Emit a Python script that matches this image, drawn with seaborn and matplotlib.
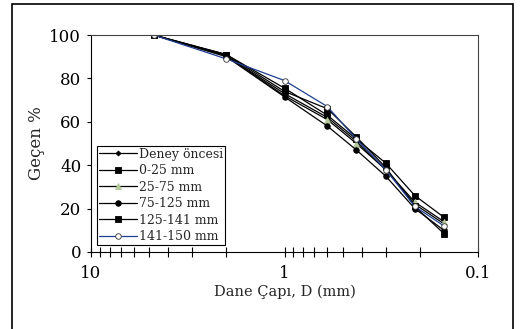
import matplotlib
matplotlib.use("Agg")
import matplotlib.pyplot as plt
import seaborn as sns
import pandas as pd
from matplotlib.patches import Rectangle
from matplotlib.ticker import FixedLocator, NullFormatter

# ---- data ----
sizes_mm = [4.75, 2.0, 1.0, 0.6, 0.425, 0.3, 0.212, 0.15]
deney_oncesi = [100, 90.5, 73.0, 62.0, 51.0, 38.0, 22.0, 13.0]
s_0_25 = [100, 91.0, 75.5, 63.0, 52.0, 41.0, 26.0, 16.0]
s_25_75 = [100, 90.5, 72.0, 61.0, 50.0, 38.0, 23.0, 14.0]
s_75_125 = [100, 90.0, 71.5, 58.0, 47.0, 35.0, 20.0, 10.0]
s_125_141 = [100, 91.0, 74.0, 66.0, 53.0, 39.0, 21.0, 8.5]
s_141_150 = [100, 89.0, 79.0, 67.0, 52.0, 38.0, 21.0, 12.0]
series_names = ["Deney öncesi", "0-25 mm", "25-75 mm", "75-125 mm", "125-141 mm", "141-150 mm"]
series_vals = [deney_oncesi, s_0_25, s_25_75, s_75_125, s_125_141, s_141_150]

styles = {
    "Deney öncesi": dict(color="black", marker="D", ms=2.5, mfc="black", mec="black"),
    "0-25 mm": dict(color="black", marker="s", ms=5, mfc="black", mec="black"),
    "25-75 mm": dict(color="black", marker="^", ms=4, mfc="#b5c99a", mec="#b5c99a"),
    "75-125 mm": dict(color="black", marker="o", ms=4, mfc="black", mec="black"),
    "125-141 mm": dict(color="black", marker="s", ms=4.5, mfc="black", mec="black"),
    "141-150 mm": dict(color="#1f3f8f", marker="o", ms=4, mfc="white", mec="#333333"),
}

rows = []
for name, vals in zip(series_names, series_vals):
    for x, y in zip(sizes_mm, vals):
        rows.append({"D": x, "pct": y, "series": name})
df = pd.DataFrame(rows)

sns.set_style("white")
plt.rcParams["font.family"] = ["DejaVu Serif"]

fig = plt.figure(figsize=(5.28, 3.29), dpi=100)
ax = fig.add_axes([91/528, 1-252/329, (478-91)/528, (252-35)/329])

for name in series_names:
    st = styles[name]
    sub = df[df["series"] == name]
    sns.lineplot(data=sub, x="D", y="pct", ax=ax, color=st["color"], lw=0.9,
                 marker=st["marker"], markersize=st["ms"], markerfacecolor=st["mfc"],
                 markeredgecolor=st["mec"], markeredgewidth=0.6, label=name, sort=False)

ax.set_xscale("log")
ax.set_xlim(10, 0.1)
ax.set_ylim(0, 100)
ax.set_yticks([0, 20, 40, 60, 80, 100])
ax.set_xticks([10, 1, 0.1])
ax.set_xticklabels(["10", "1", "0.1"])
minors = [m * d for d in (1, 0.1) for m in range(2, 10)]
ax.xaxis.set_minor_locator(FixedLocator(minors))
ax.xaxis.set_minor_formatter(NullFormatter())
ax.tick_params(axis="x", which="both", direction="inout", length=7, width=0.8,
               bottom=True, top=False, labelsize=12, pad=6, colors="black")
ax.tick_params(axis="y", which="major", direction="out", length=3, width=0.8,
               left=True, labelsize=12, colors="black", pad=4)
for s in ax.spines.values():
    s.set_color("#444444")
    s.set_linewidth(0.8)
ax.spines["bottom"].set_color("black")
ax.spines["left"].set_color("black")

ax.set_xlabel("Dane Çapı, D (mm)", fontsize=10.5, labelpad=2)
ax.set_ylabel("Geçen %", fontsize=12, labelpad=3)

leg = ax.legend(loc="lower left", bbox_to_anchor=(0.01, 0.02), fontsize=9,
                frameon=True, fancybox=False, edgecolor="black", framealpha=1,
                handlelength=3.0, handletextpad=0.2, borderpad=0.15,
                labelspacing=0.28, borderaxespad=0.2)
leg.get_frame().set_linewidth(0.8)

fig.patches.append(Rectangle((12/528, -0.02), (513-12)/528, 1.02 - 4/329,
                             transform=fig.transFigure, fill=False,
                             edgecolor="black", lw=1.2))

fig.savefig("out.png", dpi=100)
